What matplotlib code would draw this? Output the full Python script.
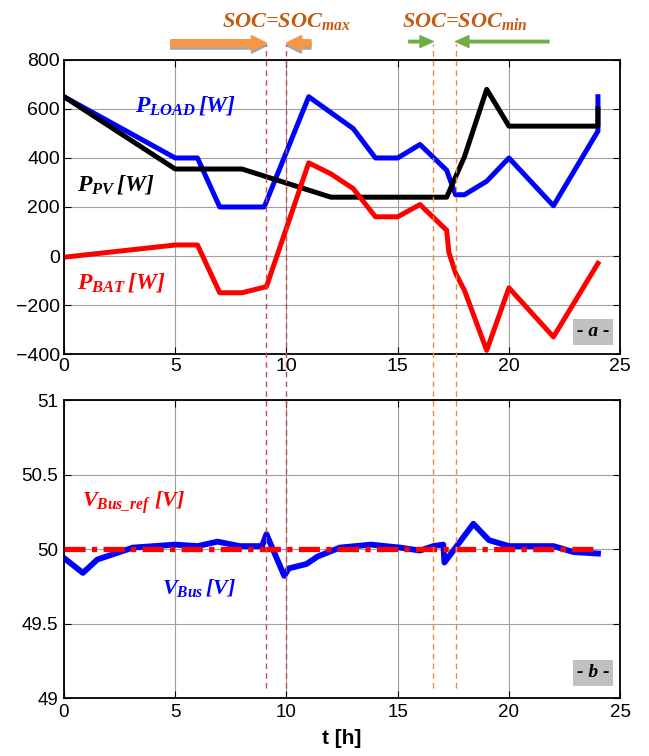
import matplotlib
matplotlib.use("Agg")
import matplotlib.pyplot as plt
from matplotlib.transforms import blended_transform_factory

# ---- data ----
t_load = [0, 5, 6, 7, 9, 11, 13, 14, 15, 16, 17.2, 17.6, 18, 19, 20, 22, 24, 24]
p_load = [650, 400, 400, 200, 200, 650, 520, 400, 400, 455, 350, 250, 250, 305, 400, 205, 510, 650]

t_pv = [0, 5, 8, 12, 17.2, 18, 19, 20, 24, 24]
p_pv = [650, 355, 355, 240, 240, 405, 680, 530, 530, 600]

t_bat = [0, 5, 6, 7, 8, 9.1, 11, 12, 13, 14, 15, 16, 17.2, 17.3, 17.6, 18, 19, 20, 22, 24]
p_bat = [-5, 45, 45, -150, -150, -125, 380, 335, 275, 160, 160, 210, 105, 15, -70, -140, -385, -130, -330, -30]

t_vbus = [0, 0.85, 1.5, 3.1, 5, 6, 6.9, 7.9, 8.9, 9.1, 9.9, 10.1, 10.9, 11.4, 12.4, 13.8,
          15.1, 16.0, 16.6, 17.05, 17.1, 17.6, 18.4, 19.1, 20, 22, 22.9, 24]
v_bus = [49.94, 49.84, 49.93, 50.01, 50.03, 50.02, 50.05, 50.02, 50.02, 50.10, 49.82, 49.87, 49.90,
         49.95, 50.01, 50.03, 50.01, 49.99, 50.02, 50.03, 49.91, 50.01, 50.17, 50.06, 50.02, 50.02,
         49.98, 49.97]
t_ref = [0, 24]
v_ref = [50, 50]

t_soc_max = [9.1, 10.0]
t_soc_min = [16.6, 17.6]

# ---- style ----
plt.rcParams['font.family'] = ['Liberation Sans', 'DejaVu Sans']
plt.rcParams['mathtext.fontset'] = 'custom'
plt.rcParams['mathtext.it'] = 'Liberation Serif:bold:italic'
plt.rcParams['mathtext.rm'] = 'Liberation Serif:bold:italic'
plt.rcParams['mathtext.bf'] = 'Liberation Serif:bold:italic'

serif_bi = dict(family='Liberation Serif', fontweight='bold', style='italic')

fig = plt.figure(figsize=(6.49, 7.56), dpi=100)
ax1 = fig.add_axes([0.0986, 0.5317, 0.857, 0.389])
ax2 = fig.add_axes([0.0986, 0.0767, 0.857, 0.394])

for ax in (ax1, ax2):
    ax.set_xlim(0, 25)
    ax.set_xticks(range(0, 26, 5))
    ax.grid(True, color='#a0a0a0', lw=0.8)
    ax.tick_params(direction='in', top=True, right=True, length=5)
    for s in ax.spines.values():
        s.set_linewidth(1.3)
ax1.tick_params(labelsize=14, pad=3)
ax2.tick_params(labelsize=13.5, pad=4)

ax1.plot(t_load, p_load, color='#0000ff', lw=3.6, solid_joinstyle='round')
ax1.plot(t_pv, p_pv, color='black', lw=3.6, solid_joinstyle='round')
ax1.plot(t_bat, p_bat, color='#ff0000', lw=3.6, solid_joinstyle='round')
ax1.set_ylim(-400, 800)
ax1.set_yticks(range(-400, 801, 200))

ax2.plot(t_vbus, v_bus, color='#0000ff', lw=4.2, solid_joinstyle='round')
ax2.plot(t_ref, v_ref, color='#ff0000', lw=3.8, ls=(0, (4, 1.2, 1, 1.2)))
ax2.set_ylim(49, 51)
ax2.set_yticks([49, 49.5, 50, 50.5, 51])
ax2.set_yticklabels(['49', '49.5', '50', '50.5', '51'])
ax2.set_xlabel('t [h]', fontsize=15, fontweight='bold', labelpad=6)

# curve labels
ax1.text(3.2, 615, r'$P_{LOAD}\,[W]$', color='#0000ff', fontsize=17, va='center')
ax1.text(0.6, 290, r'$P_{PV}\,[W]$', color='black', fontsize=17, va='center')
ax1.text(0.6, -110, r'$P_{BAT}\,[W]$', color='#ff0000', fontsize=17, va='center')
ax2.text(0.8, 50.31, r'$V_{Bus\_ref}\ [V]$', color='#ff0000', fontsize=16, va='center')
ax2.text(4.4, 49.74, r'$V_{Bus}\,[V]$', color='#0000ff', fontsize=16, va='center')

box = dict(facecolor='#c0c0c0', edgecolor='none', pad=3)
ax1.text(0.951, 0.075, '- a -', transform=ax1.transAxes, ha='center', va='center',
         fontsize=14, bbox=box, **serif_bi)
ax2.text(0.951, 0.084, '- b -', transform=ax2.transAxes, ha='center', va='center',
         fontsize=14, bbox=box, **serif_bi)

# event lines spanning both panels
tr = blended_transform_factory(ax2.transData, fig.transFigure)
for x in t_soc_max:
    ax2.plot([x, x], [0.09, 0.942], transform=tr, clip_on=False, color='#c0504d', lw=1.0, ls=(0, (4, 3)))
for x in t_soc_min:
    ax2.plot([x, x], [0.09, 0.942], transform=tr, clip_on=False, color='#f08a3c', lw=1.0, ls=(0, (4, 3)))

# SOC annotations
fig.text(0.342, 0.964, r'SOC=SOC$_{max}$', color='#c55a11', fontsize=16, va='baseline', **serif_bi)
fig.text(0.619, 0.964, r'SOC=SOC$_{min}$', color='#c55a11', fontsize=16, va='baseline', **serif_bi)

tra = blended_transform_factory(ax1.transData, fig.transFigure)
big = 'simple,head_width=0.9,head_length=0.9,tail_width=0.4'
small = 'simple,head_width=0.7,head_length=0.8,tail_width=0.15'
for (x0, x1) in [(4.8, t_soc_max[0]), (11.1, t_soc_max[1])]:
    ax1.annotate('', xy=(x1, 0.9395), xytext=(x0, 0.9395), xycoords=tra, textcoords=tra,
                 arrowprops=dict(arrowstyle=big, color='#a6a6a6', mutation_scale=12, shrinkA=0, shrinkB=0))
    ax1.annotate('', xy=(x1, 0.943), xytext=(x0, 0.943), xycoords=tra, textcoords=tra,
                 arrowprops=dict(arrowstyle=big, color='#f79646', mutation_scale=12, shrinkA=0, shrinkB=0))
for (x0, x1) in [(15.5, t_soc_min[0]), (21.8, t_soc_min[1])]:
    ax1.annotate('', xy=(x1, 0.945), xytext=(x0, 0.945), xycoords=tra, textcoords=tra,
                 arrowprops=dict(arrowstyle=small, color='#70ad47', mutation_scale=12, shrinkA=0, shrinkB=0))

fig.savefig('out.png', dpi=100)
